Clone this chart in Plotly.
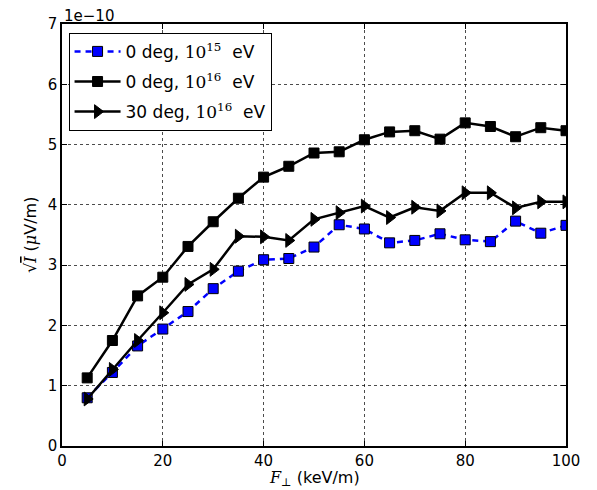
"""
sqrt(I) versus F_perp for three shower configurations
"""
import plotly.graph_objects as go

# x values (keV/m)
f_perp = [5, 10, 15, 20, 25, 30, 35, 40, 45, 50, 55, 60, 65, 70, 75, 80, 85, 90, 95, 100]

# sqrt(I) in units of 1e-10 uV/m
zero_deg_1e15 = [0.80, 1.22, 1.66, 1.94, 2.23, 2.61, 2.90, 3.09, 3.11, 3.30,
                 3.67, 3.60, 3.37, 3.41, 3.52, 3.42, 3.39, 3.73, 3.53, 3.66]
zero_deg_1e16 = [1.13, 1.75, 2.49, 2.80, 3.31, 3.72, 4.11, 4.46, 4.64, 4.86,
                 4.88, 5.08, 5.21, 5.23, 5.09, 5.36, 5.30, 5.13, 5.28, 5.23]
thirty_deg_1e16 = [0.78, 1.27, 1.75, 2.21, 2.68, 2.93, 3.48, 3.47, 3.41, 3.76,
                   3.87, 3.98, 3.79, 3.96, 3.90, 4.20, 4.20, 3.95, 4.05, 4.05]

x_ticks = [0, 20, 40, 60, 80, 100]
y_ticks = [0, 1, 2, 3, 4, 5, 6, 7]

font = "DejaVu Sans, sans-serif"
serif = "DejaVu Serif"


def power_label(prefix, exponent):
    # mathtext-like 10^n in a serif face
    return (f"{prefix}<span style='font-family:{serif}'>10<sup>{exponent}</sup></span>  eV")


fig = go.Figure()

fig.add_trace(go.Scatter(
    x=f_perp, y=zero_deg_1e15, mode="lines+markers",
    name=power_label("0 deg, ", 15), legendgroup="a",
    line=dict(color="#0000ff", width=2.5, dash="6px,5px"),
    marker=dict(symbol="square", size=10, color="#0000ff",
                line=dict(color="black", width=1)),
))
fig.add_trace(go.Scatter(
    x=f_perp, y=zero_deg_1e16, mode="lines+markers",
    name=power_label("0 deg, ", 16), legendgroup="b",
    line=dict(color="black", width=2.5),
    marker=dict(symbol="square", size=10, color="black",
                line=dict(color="black", width=1)),
))
fig.add_trace(go.Scatter(
    x=f_perp, y=thirty_deg_1e16, mode="lines+markers",
    name=power_label("30 deg, ", 16), legendgroup="c",
    line=dict(color="black", width=2.5),
    marker=dict(symbol="triangle-right", size=12, color="black",
                line=dict(color="black", width=1)),
))

axis_style = dict(
    showline=True, linecolor="black", linewidth=1.5, mirror="ticks",
    ticks="inside", ticklen=5, tickcolor="black",
    showgrid=True, gridcolor="rgba(0,0,0,0.7)", griddash="dot", gridwidth=1,
    zeroline=False, automargin=False,
    tickfont=dict(family=font, size=15, color="black"),
)

fig.update_xaxes(range=[0, 100], tickvals=x_ticks, **axis_style)
fig.update_yaxes(range=[0, 7], tickvals=y_ticks, **axis_style)

# axis titles and the offset text as annotations (fixed margins)
fig.add_annotation(
    text=f"<span style='font-family:{serif}'><i>F</i><sub>⊥</sub></span> (keV/m)",
    xref="paper", yref="paper", x=0.5, y=0, xanchor="center", yanchor="middle",
    yshift=-32, showarrow=False,
    font=dict(family=font, size=16, color="black"),
)
fig.add_annotation(
    text=f"<span style='font-family:{serif}'>√<span style='text-decoration:overline'><i>I</i></span></span>"
         f" (<span style='font-family:{serif}'><i>μ</i></span>V/m)",
    xref="paper", yref="paper", x=0, y=0.5, xanchor="center", yanchor="middle",
    xshift=-32, textangle=-90, showarrow=False,
    font=dict(family=font, size=16, color="black"),
)
fig.add_annotation(
    text="1e−10", xref="paper", yref="paper", x=0, y=1,
    xanchor="left", yanchor="middle", yshift=8, showarrow=False,
    font=dict(family=font, size=15, color="black"),
)

# the page puts the figure 8 px in from the top-left corner
fig.update_layout(
    width=589, height=482,
    margin=dict(l=54, r=31, t=16, b=44),
    paper_bgcolor="white", plot_bgcolor="white",
    font=dict(family=font, size=15, color="black"),
    showlegend=True,
    legend=dict(
        x=0.013, y=0.979, xanchor="left", yanchor="top",
        bgcolor="white", bordercolor="black", borderwidth=1,
        font=dict(family=font, size=17, color="black"),
        tracegroupgap=5, itemwidth=46,
    ),
)

fig.write_html("out.html")
